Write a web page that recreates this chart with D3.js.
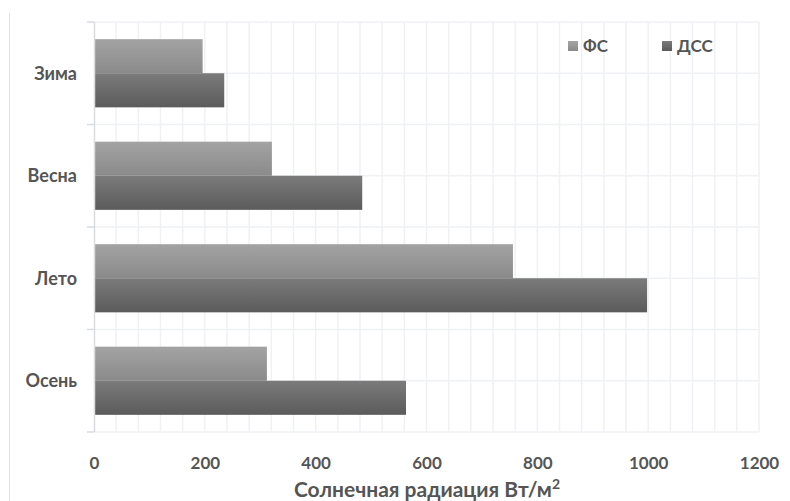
<!DOCTYPE html>
<html><head><meta charset="utf-8">
<script src="https://cdn.jsdelivr.net/npm/d3@7"></script>
<style>body{margin:0;background:#fff}svg{display:block}text{font-family:Lato,"Open Sans",sans-serif;font-weight:bold}</style>
</head><body><svg id="c" width="790" height="501"></svg>
<script>
const categories = ["Зима","Весна","Лето","Осень"];
const seriesNames = ["ФС","ДСС"];
const fsValues = [196, 321, 756, 312];
const dssValues = [235, 484, 998, 563];
const xTicks = [0,200,400,600,800,1000,1200];
const axisTitle = "Солнечная радиация Вт/м";

const svg = d3.select("#c");
const m = {l:94, r:759, t:22, b:432};
const x = d3.scaleLinear().domain([0,1200]).range([m.l, m.r]);
const y = d3.scaleBand().domain(categories).range([m.t, m.b]).paddingInner(0.335).paddingOuter(0.1675);
const sub = d3.scaleBand().domain(seriesNames).range([0, y.bandwidth()]);

const defs = svg.append("defs");
const grads = {"ФС":["#a3a3a3","#8a8a8a"],"ДСС":["#7b7b7b","#5b5b5b"]};
seriesNames.forEach((s,i)=>{
  const g = defs.append("linearGradient").attr("id","g"+i).attr("x1",0).attr("y1",0).attr("x2",0).attr("y2",1);
  g.append("stop").attr("offset","0%").attr("stop-color",grads[s][0]);
  g.append("stop").attr("offset","100%").attr("stop-color",grads[s][1]);
});

// chart border (left)
svg.append("line").attr("x1",9.5).attr("x2",9.5).attr("y1",13).attr("y2",501).attr("stroke","#dcdfe4");

// gridlines
const vgrid = d3.range(40,1201,40);
svg.append("g").selectAll("line").data(vgrid).join("line")
  .attr("x1",d=>x(d)).attr("x2",d=>x(d)).attr("y1",m.t).attr("y2",m.b)
  .attr("stroke","#eff1f4").attr("stroke-width",1.5);
const hgrid = [];
categories.forEach((c,i)=>{ hgrid.push(m.t + i*(m.b-m.t)/4); hgrid.push(m.t + (i+0.5)*(m.b-m.t)/4); });
hgrid.push(m.b);
svg.append("g").selectAll("line").data(hgrid).join("line")
  .attr("x1",m.l).attr("x2",m.r).attr("y1",d=>d).attr("y2",d=>d)
  .attr("stroke","#eff1f4").attr("stroke-width",1.5);

// bars
const data = categories.map((c,i)=>({c, vals:[fsValues[i], dssValues[i]]}));
const gb = svg.append("g");
data.forEach(d=>{
  d.vals.forEach((v,j)=>{
    gb.append("rect").attr("x",x(0)).attr("y",y(d.c)+sub(seriesNames[j]))
      .attr("width",x(v)-x(0)).attr("height",sub.bandwidth()).attr("fill","url(#g"+j+")");
  });
});

// y axis line + ticks
const bounds = d3.range(5).map(i=>m.t + i*(m.b-m.t)/4);
svg.append("line").attr("x1",m.l+0.5).attr("x2",m.l+0.5).attr("y1",m.t).attr("y2",m.b).attr("stroke","#d9dce1").attr("stroke-width",1.5);
svg.append("g").selectAll("line").data(bounds).join("line")
  .attr("x1",87).attr("x2",m.l).attr("y1",d=>d).attr("y2",d=>d).attr("stroke","#d9dce1").attr("stroke-width",1.5);

// category labels
svg.append("g").selectAll("text").data(categories).join("text")
  .attr("x",77).attr("y",d=>y(d)+y.bandwidth()/2).attr("dy","0.35em")
  .attr("text-anchor","end").attr("font-size",18).attr("fill","#555").text(d=>d);

// x axis labels
const xa = svg.append("g").attr("transform",`translate(0,${m.b})`)
  .call(d3.axisBottom(x).tickValues(xTicks).tickSize(0).tickPadding(0).tickFormat(d3.format("d")));
xa.select(".domain").remove();
xa.selectAll("text").attr("y",37).attr("dy",0).attr("font-size",17).attr("fill","#555").style("font-family","Lato,sans-serif").style("font-weight","bold");

// axis title
const t = svg.append("text").attr("x",427).attr("y",497).attr("text-anchor","middle").attr("font-size",21).attr("fill","#555").text(axisTitle);
t.append("tspan").attr("font-size",14).attr("dy",-8).text("2");

// legend
const lg = svg.append("g");
const lx = [568, 662];
seriesNames.forEach((s,i)=>{
  lg.append("rect").attr("x",lx[i]).attr("y",41).attr("width",10).attr("height",10).attr("fill","url(#g"+i+")");
  lg.append("text").attr("x",lx[i]+15).attr("y",52).attr("font-size",17).attr("fill","#555").text(s);
});
</script></body></html>
